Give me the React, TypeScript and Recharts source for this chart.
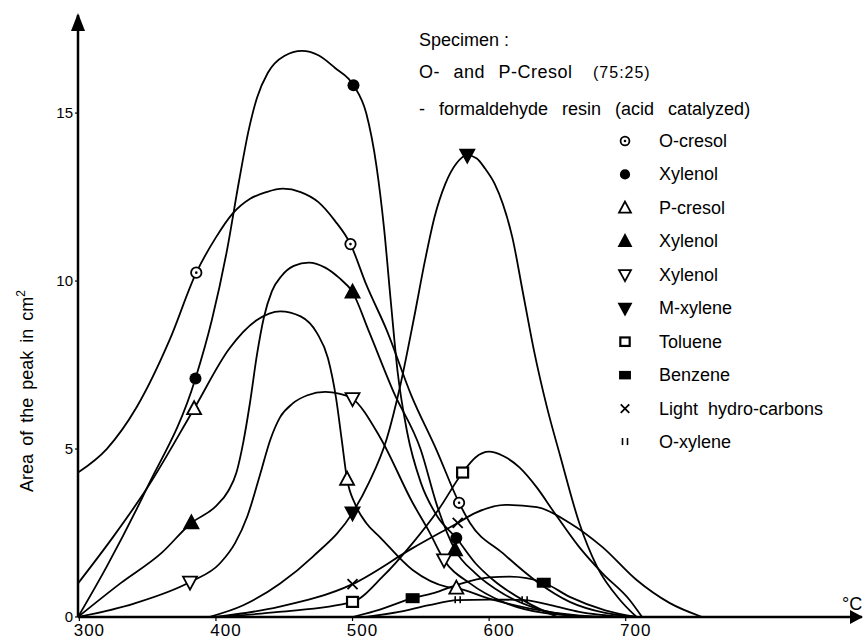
import React from 'react';
import { ComposedChart, Line, Scatter, XAxis, YAxis, ReferenceDot } from 'recharts';

type Pt = [number, number];

// curves: [temperature in °C, area of the peak in cm²]
const oCresolCurve: Pt[] = [
  [299, 4.3], [320, 5.0], [342, 6.25], [366, 8.24], [385.6, 10.25], [400, 11.3], [412, 12.0], [425, 12.45],
  [437, 12.65], [449, 12.75], [462, 12.65], [475, 12.35], [487, 11.8], [498.5, 11.1], [510, 9.9], [525, 8.54],
  [543, 6.6], [561.5, 4.97], [578, 3.4], [586, 2.8], [610, 1.9], [635, 1.05], [659, 0.45], [685, 0.12], [708, 0],
];
const oCresolPts: Pt[] = [[385.6, 10.25], [498.5, 11.1], [578, 3.4]];

const xylenolACurve: Pt[] = [
  [299, 0], [320, 1.5], [349, 3.8], [385, 7.1], [397, 8.84], [408, 10.9], [417, 13.0], [424, 14.5],
  [430, 15.45], [438, 16.2], [450, 16.7], [463, 16.85], [475, 16.72], [487, 16.35], [500.7, 15.83],
  [510, 15.0], [517.6, 13.4], [523, 11.6], [528, 9.4], [533, 7.3], [540, 5.5], [550, 4.0], [562, 3.0],
  [576, 2.35], [590, 1.6], [603, 1.1], [627, 0.45], [650, 0],
];
const xylenolAPts: Pt[] = [[385, 7.1], [500.7, 15.83], [576, 2.35]];

const pCresolCurve: Pt[] = [
  [299, 1.0], [325, 2.4], [349, 3.8], [384, 6.2], [410, 8.0], [430, 8.84], [447, 9.1], [462, 8.95],
  [474, 8.45], [482, 7.7], [488, 6.5], [492, 5.3], [496, 4.1], [502, 3.35], [510, 2.8], [520, 2.38],
  [544, 1.4], [569, 0.9], [576, 0.86], [600, 0.55], [630, 0.25], [665, 0.05], [690, 0],
];
const pCresolPts: Pt[] = [[384, 6.2], [496, 4.1], [576, 0.86]];

const xylenolBCurve: Pt[] = [
  [299, 0], [330, 1.0], [360, 1.9], [382, 2.8], [400, 3.3], [409, 3.75], [415, 4.3], [420, 5.2],
  [425, 6.4], [430, 7.8], [435, 8.9], [441, 9.7], [448, 10.15], [457, 10.45], [468, 10.55], [480, 10.4],
  [490, 10.1], [500, 9.67], [512, 8.5], [530, 6.7], [550, 4.97], [562, 3.3], [575, 2.0], [590, 1.3],
  [610, 0.7], [635, 0.25], [670, 0],
];
const xylenolBPts: Pt[] = [[382, 2.8], [500, 9.67], [575, 2.0]];

const xylenolCCurve: Pt[] = [
  [299, 0], [340, 0.4], [381, 1.04], [403, 1.6], [414, 2.2], [423, 3.0], [432, 4.2], [440, 5.3],
  [447, 5.95], [456, 6.35], [467, 6.6], [480, 6.7], [490, 6.65], [500, 6.5], [520, 5.36], [544, 3.4],
  [556, 2.55], [567, 1.7], [586, 1.0], [610, 0.45], [640, 0.12], [680, 0],
];
const xylenolCPts: Pt[] = [[381, 1.04], [500, 6.5], [567, 1.7]];

const mXyleneCurve: Pt[] = [
  [395, 0], [420, 0.35], [447, 1.0], [471, 1.8], [500, 3.1], [512, 4.0], [525, 5.3], [535, 6.9],
  [545, 8.9], [553, 10.6], [560, 11.9], [568, 12.9], [576, 13.5], [584, 13.75], [591, 13.65],
  [597, 13.35], [604, 12.9], [610, 12.3], [617, 11.3], [625, 9.6], [633, 7.9], [642, 6.3], [652, 4.8],
  [666, 2.8], [679, 1.5], [696, 0.5], [708, 0],
];
const mXylenePts: Pt[] = [[500, 3.1], [584, 13.75]];

const tolueneCurve: Pt[] = [
  [400, 0], [446, 0.15], [500, 0.45], [522, 1.2], [544, 2.2], [563, 3.2], [580.6, 4.3], [590, 4.75],
  [600, 4.92], [610, 4.8], [622, 4.46], [635, 3.85], [646.5, 3.18], [666, 2.08], [683, 1.3], [703, 0.5],
  [712, 0],
];
const toluenePts: Pt[] = [[500, 0.45], [580.6, 4.3]];

const benzeneCurve: Pt[] = [
  [500, 0], [520, 0.22], [544, 0.56], [560, 0.72], [576, 0.95], [600, 1.18], [615, 1.2], [640, 1.02],
  [659, 0.6], [685, 0.2], [708, 0],
];
const benzenePts: Pt[] = [[544, 0.56], [640, 1.02]];

const lightHcCurve: Pt[] = [
  [400, 0], [446, 0.3], [500, 0.98], [544, 2.05], [577, 2.8], [590, 3.1], [612, 3.34], [635, 3.27],
  [659, 2.8], [683, 2.08], [708, 1.1], [732, 0.42], [756, 0],
];
const lightHcPts: Pt[] = [[500, 0.98], [577, 2.8]];

const oXyleneCurve: Pt[] = [
  [510, 0], [534, 0.15], [556, 0.35], [577, 0.5], [600, 0.52], [626, 0.5], [645, 0.35], [666, 0.15],
  [700, 0],
];
const oXylenePts: Pt[] = [[577, 0.5], [626, 0.5]];

const xTicks = [300, 400, 500, 600, 700];
const yTicks = [0, 5, 10, 15];
const xDomain: [number, number] = [299, 873];
const yDomain: [number, number] = [0, 17.92];

type Kind = 'dotCircle' | 'circle' | 'triUpOpen' | 'triUp' | 'triDownOpen' | 'triDown' | 'squareOpen' | 'square' | 'cross' | 'ticks';

const series: { label: string; curve: Pt[]; points: Pt[]; kind: Kind }[] = [
  { label: 'O-cresol', curve: oCresolCurve, points: oCresolPts, kind: 'dotCircle' },
  { label: 'Xylenol', curve: xylenolACurve, points: xylenolAPts, kind: 'circle' },
  { label: 'P-cresol', curve: pCresolCurve, points: pCresolPts, kind: 'triUpOpen' },
  { label: 'Xylenol', curve: xylenolBCurve, points: xylenolBPts, kind: 'triUp' },
  { label: 'Xylenol', curve: xylenolCCurve, points: xylenolCPts, kind: 'triDownOpen' },
  { label: 'M-xylene', curve: mXyleneCurve, points: mXylenePts, kind: 'triDown' },
  { label: 'Toluene', curve: tolueneCurve, points: toluenePts, kind: 'squareOpen' },
  { label: 'Benzene', curve: benzeneCurve, points: benzenePts, kind: 'square' },
  { label: 'Light  hydro-carbons', curve: lightHcCurve, points: lightHcPts, kind: 'cross' },
  { label: 'O-xylene', curve: oXyleneCurve, points: oXylenePts, kind: 'ticks' },
];

const toData = (pts: Pt[]) => pts.map(([x, y]) => ({ x, y }));

const FONT = '"Liberation Sans", Arial, sans-serif';

function Marker({ kind, cx, cy, s = 1 }: { kind: Kind; cx: number; cy: number; s?: number }) {
  const k = '#000';
  switch (kind) {
    case 'dotCircle':
      return (
        <g>
          <circle cx={cx} cy={cy} r={5.2 * s} fill="#fff" stroke={k} strokeWidth={1.8} />
          <circle cx={cx} cy={cy} r={1.3} fill={k} />
        </g>
      );
    case 'circle':
      return <circle cx={cx} cy={cy} r={6 * s} fill={k} />;
    case 'triUpOpen':
    case 'triUp':
      return (
        <polygon
          points={`${cx},${cy - 7.5 * s} ${cx - 7 * s},${cy + 5.5 * s} ${cx + 7 * s},${cy + 5.5 * s}`}
          fill={kind === 'triUp' ? k : '#fff'}
          stroke={k}
          strokeWidth={1.8}
        />
      );
    case 'triDownOpen':
    case 'triDown':
      return (
        <polygon
          points={`${cx},${cy + 7.5 * s} ${cx - 7 * s},${cy - 5.5 * s} ${cx + 7 * s},${cy - 5.5 * s}`}
          fill={kind === 'triDown' ? k : '#fff'}
          stroke={k}
          strokeWidth={1.8}
        />
      );
    case 'squareOpen':
      return <rect x={cx - 5.5 * s} y={cy - 5 * s} width={11 * s} height={10 * s} fill="#fff" stroke={k} strokeWidth={2.2} />;
    case 'square':
      return <rect x={cx - 7 * s} y={cy - 5 * s} width={14 * s} height={10 * s} fill={k} />;
    case 'cross':
      return (
        <g stroke={k} strokeWidth={1.8}>
          <line x1={cx - 5 * s} y1={cy - 5 * s} x2={cx + 5 * s} y2={cy + 5 * s} />
          <line x1={cx - 5 * s} y1={cy + 5 * s} x2={cx + 5 * s} y2={cy - 5 * s} />
        </g>
      );
    case 'ticks':
      return (
        <g stroke={k} strokeWidth={1.6}>
          <line x1={cx - 2.5} y1={cy - 4} x2={cx - 2.5} y2={cy + 3} />
          <line x1={cx + 2.5} y1={cy - 4} x2={cx + 2.5} y2={cy + 3} />
        </g>
      );
  }
  return null;
}

const XTick = ({ x, y, payload }: any) => (
  <text x={x + 10} y={y + 13} textAnchor="middle" fontSize={17} letterSpacing={1} fontFamily={FONT} fill="#000">
    {payload.value}
  </text>
);

const YTick = ({ x, y, payload }: any) => (
  <text x={x} y={y + 5} textAnchor="end" fontSize={15} fontFamily={FONT} fill="#000">
    {payload.value}
  </text>
);

const yArrow = ({ cx, cy }: any) => (
  <polygon points={`${cx},${cy - 2} ${cx - 7},${cy + 16} ${cx + 7},${cy + 16}`} fill="#000" />
);
const xArrow = ({ cx, cy }: any) => (
  <polygon points={`${cx + 1},${cy} ${cx - 12},${cy - 7} ${cx - 12},${cy + 7}`} fill="#000" />
);

const legendTop = 147;
const legendStep = 33.45;

export default function App() {
  return (
    <div style={{ position: 'absolute', left: 0, top: 0, width: 864, height: 641, background: '#fff' }}>
      <ComposedChart width={864} height={641} margin={{ top: 15, right: 2, bottom: 0, left: 77 }}>
        <XAxis
          type="number"
          dataKey="x"
          domain={xDomain}
          ticks={xTicks}
          height={24}
          allowDataOverflow
          axisLine={{ stroke: '#000', strokeWidth: 2.5 }}
          tickLine={{ stroke: '#000', strokeWidth: 1.2 }}
          tickSize={4}
          tick={<XTick />}
        />
        <YAxis
          type="number"
          dataKey="y"
          domain={yDomain}
          ticks={yTicks}
          width={1}
          allowDataOverflow
          axisLine={{ stroke: '#000', strokeWidth: 2.5 }}
          tickLine={{ stroke: '#000', strokeWidth: 1.2 }}
          tickSize={3}
          tick={<YTick />}
        />
        {series.map((s, i) => (
          <Line
            key={`line-${i}`}
            data={toData(s.curve)}
            dataKey="y"
            type="monotone"
            stroke="#000"
            strokeWidth={1.8}
            dot={false}
            activeDot={false}
            isAnimationActive={false}
          />
        ))}
        {series.map((s, i) => (
          <Scatter
            key={`pts-${i}`}
            data={toData(s.points)}
            dataKey="y"
            isAnimationActive={false}
            shape={(p: any) => <Marker kind={s.kind} cx={p.cx} cy={p.cy} />}
          />
        ))}
        <ReferenceDot x={xDomain[0]} y={yDomain[1]} ifOverflow="visible" shape={yArrow} />
        <ReferenceDot x={xDomain[1]} y={0} ifOverflow="visible" shape={xArrow} />
      </ComposedChart>

      <svg width={864} height={641} style={{ position: 'absolute', left: 0, top: 0, pointerEvents: 'none' }} fontFamily={FONT} fill="#000">
        <text x={419} y={46} fontSize={18}>Specimen :</text>
        <text x={419} y={78} fontSize={18} wordSpacing={8} letterSpacing={0.5}>
          O- and P-Cresol
          <tspan x={593} fontSize={16} letterSpacing={1}>(75:25)</tspan>
        </text>
        <text x={419} y={115} fontSize={18} wordSpacing={9}>- formaldehyde resin (acid catalyzed)</text>
        {series.map((s, i) => {
          const base = legendTop + i * legendStep;
          return (
            <g key={`leg-${i}`}>
              <Marker kind={s.kind} cx={625} cy={base - 6} s={0.85} />
              <text x={659} y={base} fontSize={18} style={{ whiteSpace: 'pre' }}>{s.label}</text>
            </g>
          );
        })}
        <text x={842} y={610} fontSize={18}>°C</text>
        <text x={33} y={391} fontSize={18} textAnchor="middle" wordSpacing={3} transform="rotate(-90 33 391)">
          Area of the peak in cm
          <tspan fontSize={12} dy={-8}>2</tspan>
        </text>
      </svg>
    </div>
  );
}
